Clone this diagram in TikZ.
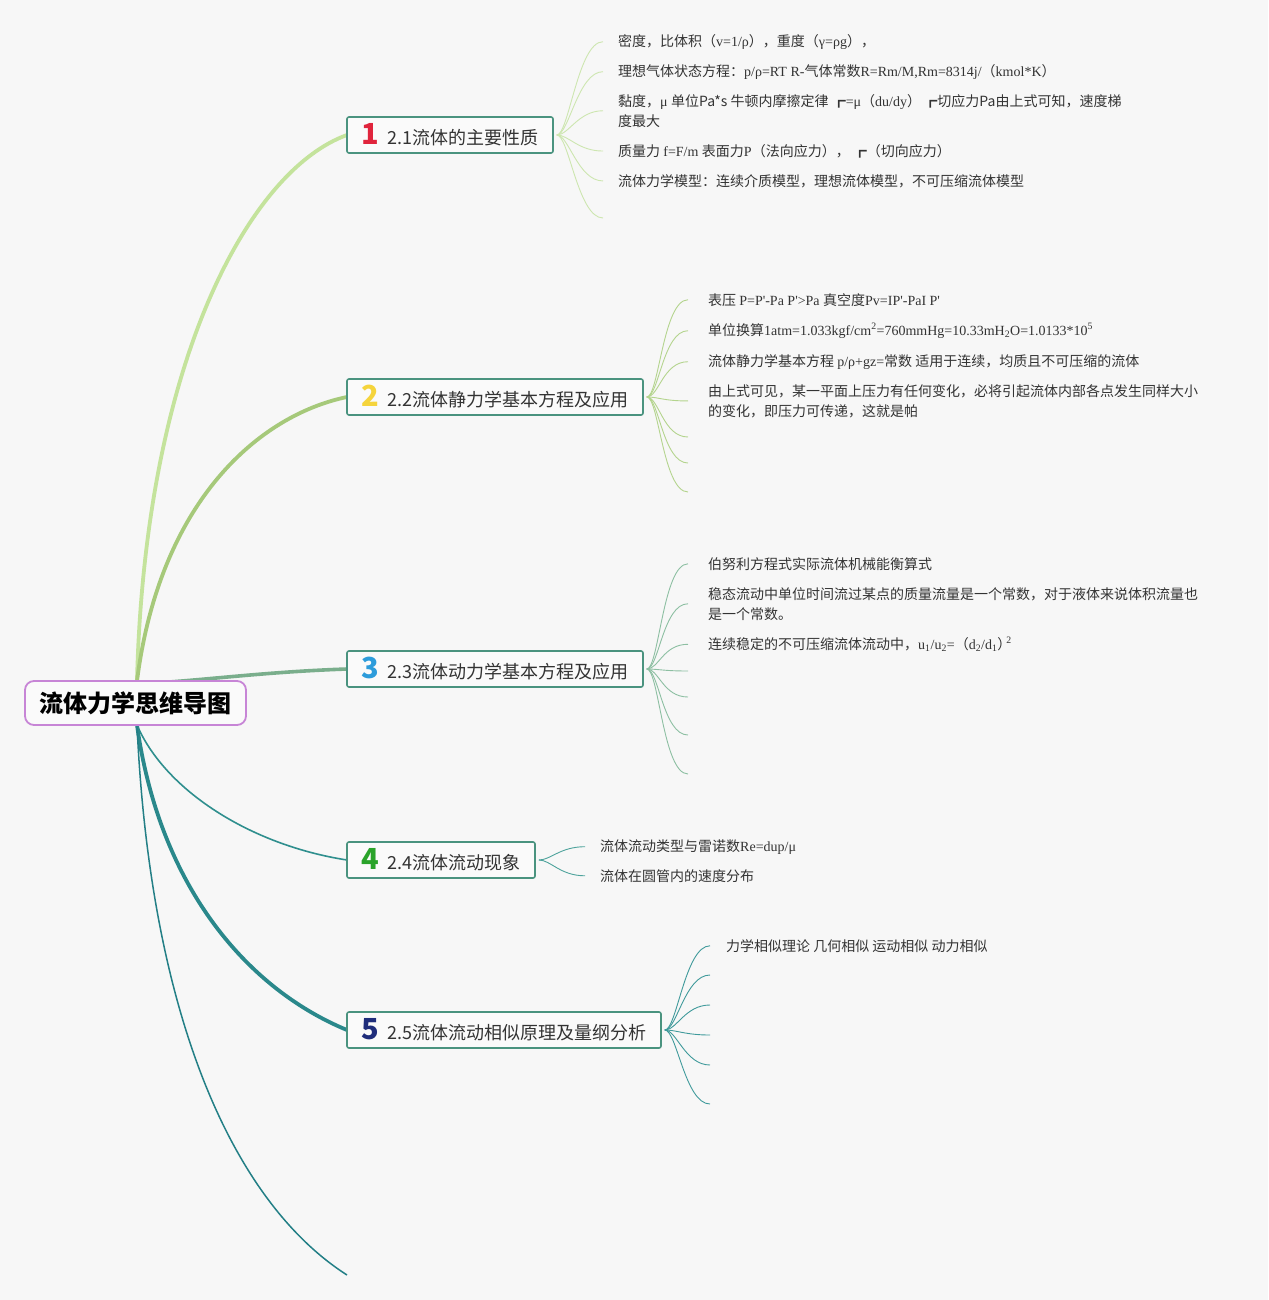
\documentclass[tikz,border=0pt]{standalone}
\usepackage{fontspec}
\setmainfont{Liberation Serif}
\newfontfamily\cjk{Noto Sans CJK SC}
\newcommand\zh[1]{{\cjk #1}}
\newcommand\lstrut{\rule{0pt}{12pt}}
\newcommand\tq{\textquotesingle}
\newcommand\bignum[2]{\textcolor{#1}{\cjk\bfseries\fontsize{29}{29}\selectfont #2}}
\definecolor{bgc}{HTML}{F7F7F7}
\definecolor{nodefill}{HTML}{FAFAFA}
\definecolor{topicborder}{HTML}{4A937F}
\definecolor{centerborder}{HTML}{C785D6}
\definecolor{txt}{HTML}{333333}
\definecolor{b1}{HTML}{C4E39C}
\definecolor{b2}{HTML}{A6C97A}
\definecolor{b3}{HTML}{7AAE8C}
\definecolor{b4}{HTML}{2F8F8E}
\definecolor{b5}{HTML}{2A888B}
\definecolor{b6}{HTML}{237F86}
\definecolor{f1}{HTML}{CDE6B0}
\definecolor{f2}{HTML}{B4D48E}
\definecolor{f3}{HTML}{8DBFA2}
\definecolor{f4}{HTML}{4EA39C}
\definecolor{f5}{HTML}{3F9A9B}
\definecolor{n1}{HTML}{E0243C}
\definecolor{n2}{HTML}{F5D43C}
\definecolor{n3}{HTML}{2D9CDB}
\definecolor{n4}{HTML}{2AA32A}
\definecolor{n5}{HTML}{1F2D7B}
\begin{document}
\begin{tikzpicture}[x=1pt,y=-1pt,
  topic/.style={draw=topicborder, line width=1.6pt, fill=nodefill, rounded corners=2pt,
    minimum height=36pt, inner sep=0pt, font=\cjk\fontsize{18}{22}\selectfont, text=txt},
  centre/.style={draw=centerborder, line width=1.8pt, fill=nodefill, rounded corners=9pt,
    minimum width=221pt, minimum height=44pt, inner sep=0pt,
    font=\cjk\bfseries\fontsize{24}{28}\selectfont, text=black},
  leaf/.style={anchor=north west, inner sep=0pt, align=left,
    font=\fontsize{14}{20}\selectfont, text=txt},
  fan/.style={line width=0.9pt}
]
\useasboundingbox (0,0) rectangle (1268,1300);
\fill[bgc] (0,0) rectangle (1268,1300);

% central node coordinates
\coordinate (ctop) at (137,681);
\coordinate (cbot) at (137,725);
\coordinate (cmid) at (137,684);
\coordinate (end6) at (347,1275);

% main branches (drawn before nodes)
\coordinate (t1w) at (347,135);
\coordinate (t2w) at (347,397);
\coordinate (t3w) at (347,669);
\coordinate (t4w) at (347,860);
\coordinate (t5w) at (347,1030);
\draw[b1, line width=3.8pt, line cap=round] (ctop) .. controls (145,360) and (250,170) .. (t1w);
\draw[b2, line width=3.8pt, line cap=round] (ctop) .. controls (160,500) and (260,415) .. (t2w);
\draw[b3, line width=3.6pt, line cap=round] (cmid) .. controls (200,681) and (260,672) .. (t3w);
\draw[b4, line width=1.6pt] (cbot) .. controls (165,790) and (250,845) .. (t4w);
\draw[b5, line width=3.8pt, line cap=round] (cbot) .. controls (160,890) and (250,990) .. (t5w);
\draw[b6, line width=1.5pt] (cbot) .. controls (150,1010) and (230,1200) .. (end6);

% central node
\node[centre] (c) at (135.5,703) {流体力学思维导图};

% topic nodes
\node[topic, minimum width=206pt] (t1) at (450,135) {\bignum{n1}{1}\hspace{8pt}2.1流体的主要性质};
\node[topic, minimum width=296pt] (t2) at (495,397) {\bignum{n2}{2}\hspace{8pt}2.2流体静力学基本方程及应用};
\node[topic, minimum width=296pt] (t3) at (495,669) {\bignum{n3}{3}\hspace{8pt}2.3流体动力学基本方程及应用};
\node[topic, minimum width=188pt] (t4) at (441,860) {\bignum{n4}{4}\hspace{8pt}2.4流体流动现象};
\node[topic, minimum width=314pt] (t5) at (504,1030) {\bignum{n5}{5}\hspace{8pt}2.5流体流动相似原理及量纲分析};

% ---- leaves of topic 1
\node[leaf] (l11) at (618,34) {\lstrut\zh{密度，比体积（}v=1/ρ\zh{），重度（}γ=ρg\zh{），}};
\node[leaf] (l12) at (618,64) {\lstrut\zh{理想气体状态方程：}p/ρ=RT R-\zh{气体常数}R=Rm/M,Rm=8314j/\zh{（}kmol*K\zh{）}};
\node[leaf] (l13) at (618,94) {\lstrut\zh{黏度，}μ \zh{单位Pa*s 牛顿内摩擦定律 ┏}=μ\zh{（}du/dy\zh{）\,┏切应力Pa由上式可知，速度梯}\\\zh{度最大}};
\node[leaf] (l14) at (618,144) {\lstrut\zh{质量力 }f=F/m \zh{表面力}P\zh{（法向应力），\ ┏（切向应力）}};
\node[leaf] (l15) at (618,174) {\lstrut\zh{流体力学模型：连续介质模型，理想流体模型，不可压缩流体模型}};
\coordinate (e16) at (603,218);
\foreach \n in {11,12,13,14,15} \coordinate (e\n) at ([xshift=-15pt]l\n.west);
\foreach \n in {11,12,13,14,15,16}
  \draw[f1, fan] ([xshift=3pt]t1.east) .. controls +(12,0) and +(-25,0) .. (e\n);

% ---- leaves of topic 2
\node[leaf] (l21) at (708,293) {\lstrut\zh{表压 }P=P\tq-Pa P\tq>Pa \zh{真空度}Pv=IP\tq-PaI P\tq};
\node[leaf] (l22) at (708,323) {\lstrut\zh{单位换算}1atm=1.033kgf/cm\textsuperscript{2}=760mmHg=10.33mH\textsubscript{2}O=1.0133*10\textsuperscript{5}};
\node[leaf] (l23) at (708,354) {\lstrut\zh{流体静力学基本方程 }p/ρ+gz=\zh{常数 适用于连续，均质且不可压缩的流体}};
\node[leaf] (l24) at (708,384) {\lstrut\zh{由上式可见，某一平面上压力有任何变化，必将引起流体内部各点发生同样大小}\\\zh{的变化，即压力可传递，这就是帕}};
\coordinate (e25) at (688,437);
\coordinate (e26) at (688,463);
\coordinate (e27) at (688,492);
\foreach \n in {21,22,23,24} \coordinate (e\n) at ([xshift=-20pt]l\n.west);
\foreach \n in {21,22,23,24,25,26,27}
  \draw[f2, fan] ([xshift=3pt]t2.east) .. controls +(12,0) and +(-25,0) .. (e\n);

% ---- leaves of topic 3
\node[leaf] (l31) at (708,557) {\lstrut\zh{伯努利方程式实际流体机械能衡算式}};
\node[leaf] (l32) at (708,587) {\lstrut\zh{稳态流动中单位时间流过某点的质量流量是一个常数，对于液体来说体积流量也}\\\zh{是一个常数。}};
\node[leaf] (l33) at (708,637) {\lstrut\zh{连续稳定的不可压缩流体流动中，}u\textsubscript{1}/u\textsubscript{2}=\zh{（}d\textsubscript{2}/d\textsubscript{1}\zh{）}\hspace{-5pt}\textsuperscript{2}};
\coordinate (e34) at (688,671);
\coordinate (e35) at (688,697);
\coordinate (e36) at (688,735);
\coordinate (e37) at (688,774);
\foreach \n in {31,32,33} \coordinate (e\n) at ([xshift=-20pt]l\n.west);
\foreach \n in {31,32,33,34,35,36,37}
  \draw[f3, fan] ([xshift=3pt]t3.east) .. controls +(12,0) and +(-25,0) .. (e\n);

% ---- leaves of topic 4
\node[leaf] (l41) at (600,839) {\lstrut\zh{流体流动类型与雷诺数}Re=dup/μ};
\node[leaf] (l42) at (600,869) {\lstrut\zh{流体在圆管内的速度分布}};
\foreach \n in {41,42} {
  \coordinate (e\n) at ([xshift=-15pt]l\n.west);
  \draw[f4, fan] ([xshift=3pt]t4.east) .. controls +(12,0) and +(-25,0) .. (e\n);
}

% ---- leaves of topic 5
\node[leaf] (l51) at (726,939) {\lstrut\zh{力学相似理论 几何相似 运动相似 动力相似}};
\coordinate (e51) at ([xshift=-16pt]l51.west);
\coordinate (e52) at (710,975);
\coordinate (e53) at (710,1005);
\coordinate (e54) at (710,1035);
\coordinate (e55) at (710,1065);
\coordinate (e56) at (710,1104);
\foreach \n in {51,52,53,54,55,56}
  \draw[f5, fan] ([xshift=3pt]t5.east) .. controls +(12,0) and +(-25,0) .. (e\n);
\end{tikzpicture}
\end{document}
